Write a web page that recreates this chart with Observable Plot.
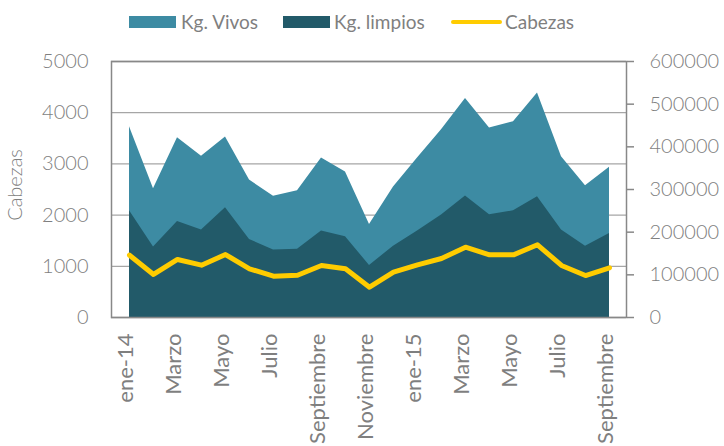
<!DOCTYPE html>
<html>
<head>
<meta charset="utf-8">
<script src="https://cdn.jsdelivr.net/npm/d3@7"></script>
<script src="https://cdn.jsdelivr.net/npm/@observablehq/plot@0.6"></script>
<style>
  html, body { margin: 0; padding: 0; background: #fff; }
  #wrap { width: 724px; height: 446px; position: relative; font-family: Lato, sans-serif; color: #7f7f7f; }
  #legend { position: relative; width: 724px; height: 45px; }
  .sw { position: absolute; }
  .lt { position: absolute; font-size: 19px; line-height: 20px; top: 12px; white-space: nowrap; }
  #ytitle { position: absolute; left: 14px; top: 185px; transform: translate(-50%, -50%) rotate(-90deg);
            font-size: 20px; font-weight: 300; white-space: nowrap; }
  svg { display: block; }
</style>
</head>
<body>
<div id="wrap"><div id="legend"></div><div id="chart"></div><div id="ytitle"></div></div>
<script>
const months = ["ene-14","Febrero","Marzo","Abril","Mayo","Junio","Julio","Agosto","Septiembre","Octubre","Noviembre","Diciembre",
                "ene-15","Febrero","Marzo","Abril","Mayo","Junio","Julio","Agosto","Septiembre"];
const kgVivos   = [447000,302000,421000,378000,423000,322000,284000,297000,374000,341000,218000,306000,374000,440000,513000,444000,459000,526000,377000,309000,352000];
const kgLimpios = [250000,165000,225000,205000,257000,183000,158000,160000,203000,189000,122000,167000,203000,240000,285000,241000,250000,283000,205000,167000,197000];
const cabezas   = [1217,840,1133,1022,1230,951,807,826,1016,951,592,885,1029,1152,1373,1224,1224,1420,1016,820,971];
const leftTicks  = [0,1000,2000,3000,4000,5000];
const rightTicks = [0,100000,200000,300000,400000,500000,600000];
const seriesNames  = ["Kg. Vivos","Kg. limpios","Cabezas"];
const seriesColors = ["#3d8ba3","#225a69","#ffcc00"];
const yTitle = "Cabezas";

const ratio = 600000 / 5000;
const data = months.map((m, i) => ({i, m, vivos: kgVivos[i], limpios: kgLimpios[i], cab: cabezas[i]}));

document.getElementById("ytitle").textContent = yTitle;

// legend
const legend = document.getElementById("legend");
const legPos = [[129,181],[283,334],[451,505]];
seriesNames.forEach((name, k) => {
  const sw = document.createElement("div");
  sw.className = "sw";
  sw.style.left = legPos[k][0] + "px";
  sw.style.width = (k === 2 ? 51 : 47) + "px";
  if (k === 2) { sw.style.top = "20px"; sw.style.height = "4px"; sw.style.borderRadius = "2px"; }
  else { sw.style.top = "16px"; sw.style.height = "12px"; }
  sw.style.background = seriesColors[k];
  legend.appendChild(sw);
  const t = document.createElement("span");
  t.className = "lt";
  t.style.left = legPos[k][1] + "px";
  t.textContent = name;
  legend.appendChild(t);
});

const chart = Plot.plot({
  width: 724, height: 401,
  marginLeft: 111, marginRight: 98, marginTop: 16, marginBottom: 129,
  style: {fontFamily: "Lato, sans-serif", color: "#7f7f7f", background: "white", overflow: "visible"},
  x: {type: "point", domain: d3.range(months.length), padding: 0.5},
  y: {domain: [0, 600000]},
  marks: [
    Plot.gridY(leftTicks.map(t => t * ratio), {stroke: "#a6a6a6", strokeOpacity: 1, strokeWidth: 1.3}),
    Plot.areaY(data, {x: "i", y1: 0, y2: "vivos", fill: seriesColors[0]}),
    Plot.areaY(data, {x: "i", y1: 0, y2: "limpios", fill: seriesColors[1]}),
    Plot.lineY(data, {x: "i", y: d => d.cab * ratio, stroke: seriesColors[2], strokeWidth: 5, strokeLinejoin: "round"}),
    Plot.frame({stroke: "#888", strokeWidth: 1.5}),
    Plot.axisY(leftTicks.map(t => t * ratio), {anchor: "left", tickSize: 0, tickPadding: 23, tickFormat: d => String(d / ratio),
      fontSize: 20, fontWeight: 300, label: null}),
    Plot.axisY(rightTicks, {anchor: "right", tickSize: 7, tickPadding: 16, stroke: "#888", strokeWidth: 1.5,
      tickFormat: d => String(d), fontSize: 20, fontWeight: 300, label: null}),
    Plot.axisX(d3.range(0, months.length, 2), {tickRotate: -90, tickSize: 0, tickPadding: 16,
      tickFormat: i => months[i], fontSize: 22, dx: -4, label: null})
  ]
});
document.getElementById("chart").appendChild(chart);
</script>
</body>
</html>
